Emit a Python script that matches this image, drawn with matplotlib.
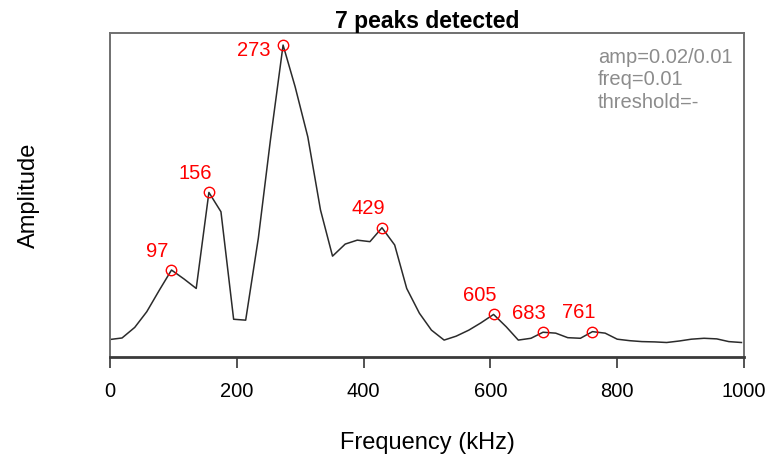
import matplotlib
matplotlib.use("Agg")
import matplotlib.pyplot as plt

plt.rcParams["font.family"] = ["Liberation Sans", "DejaVu Sans"]

# Spectrum samples (kHz) and amplitude
freq_khz = [0, 19, 39, 58, 78, 97, 117, 136, 156, 175, 195, 214, 234, 253,
            273, 292, 312, 332, 351, 371, 390, 410, 429, 449, 468, 488, 507,
            527, 546, 566, 585, 605, 625, 644, 664, 683, 703, 722, 742, 761,
            781, 800, 820, 839, 859, 878, 898, 917, 937, 957, 976, 996]
amplitude = [0.025, 0.030, 0.065, 0.117, 0.189, 0.255, 0.225, 0.194, 0.512,
             0.448, 0.092, 0.089, 0.361, 0.685, 1.000, 0.862, 0.696, 0.454,
             0.301, 0.341, 0.354, 0.349, 0.395, 0.338, 0.194, 0.112, 0.056,
             0.023, 0.036, 0.056, 0.080, 0.108, 0.067, 0.023, 0.029, 0.049,
             0.046, 0.031, 0.029, 0.051, 0.046, 0.026, 0.021, 0.018, 0.017,
             0.015, 0.020, 0.026, 0.029, 0.027, 0.018, 0.015]

# Detected peaks (kHz)
peak_khz = [97, 156, 273, 429, 605, 683, 761]

settings = ["amp=0.02/0.01", "freq=0.01", "threshold=-"]
x_ticks = [0, 200, 400, 600, 800, 1000]

fig = plt.figure(figsize=(7.68, 4.58), dpi=100)
ax = fig.add_axes([110 / 768, 1 - 357 / 458, 634 / 768, 324 / 458])

ax.plot(freq_khz, amplitude, color="#2b2b2b", lw=1.1, zorder=2)

peak_idx = [freq_khz.index(p) for p in peak_khz]
px = [freq_khz[i] for i in peak_idx]
py = [amplitude[i] for i in peak_idx]
ax.plot(px, py, linestyle="none", marker="o", markersize=7.5,
        markerfacecolor="none", markeredgecolor="red", markeredgewidth=1.0,
        zorder=3)

top_amp = max(amplitude)
for x, y in zip(px, py):
    if y > 0.9 * top_amp:
        off = (-29, -5)
    else:
        off = (-14, 19)
    ax.annotate(str(x), (x, y), xytext=off, textcoords="offset pixels",
                ha="center", va="center", color="red", fontsize=14.5)

ax.set_xlim(0, 1000)
ax.set_ylim(-0.033, 1.040)
ax.set_yticks([])
ax.set_xticks(x_ticks)
ax.set_xticklabels([str(t) for t in x_ticks])
ax.tick_params(axis="x", length=8, width=1.3, color="#444444",
               labelsize=14.5, pad=10)

for side in ["left", "top", "right"]:
    ax.spines[side].set_color("#707070")
    ax.spines[side].set_linewidth(1.4)
ax.spines["bottom"].set_color("#3a3a3a")
ax.spines["bottom"].set_linewidth(2.0)

ax.set_xlabel("Frequency (kHz)", fontsize=17, labelpad=22.5)
ax.set_ylabel("Amplitude", fontsize=17, labelpad=50.5)
ax.set_title("7 peaks detected", fontsize=16.5, fontweight="bold", pad=3)

for i, s in enumerate(settings):
    ax.text(0.770, 0.923 - i * 0.068, s, transform=ax.transAxes,
            ha="left", va="center", color="#8c8c8c", fontsize=14.5)

fig.savefig("out.png", dpi=100)
